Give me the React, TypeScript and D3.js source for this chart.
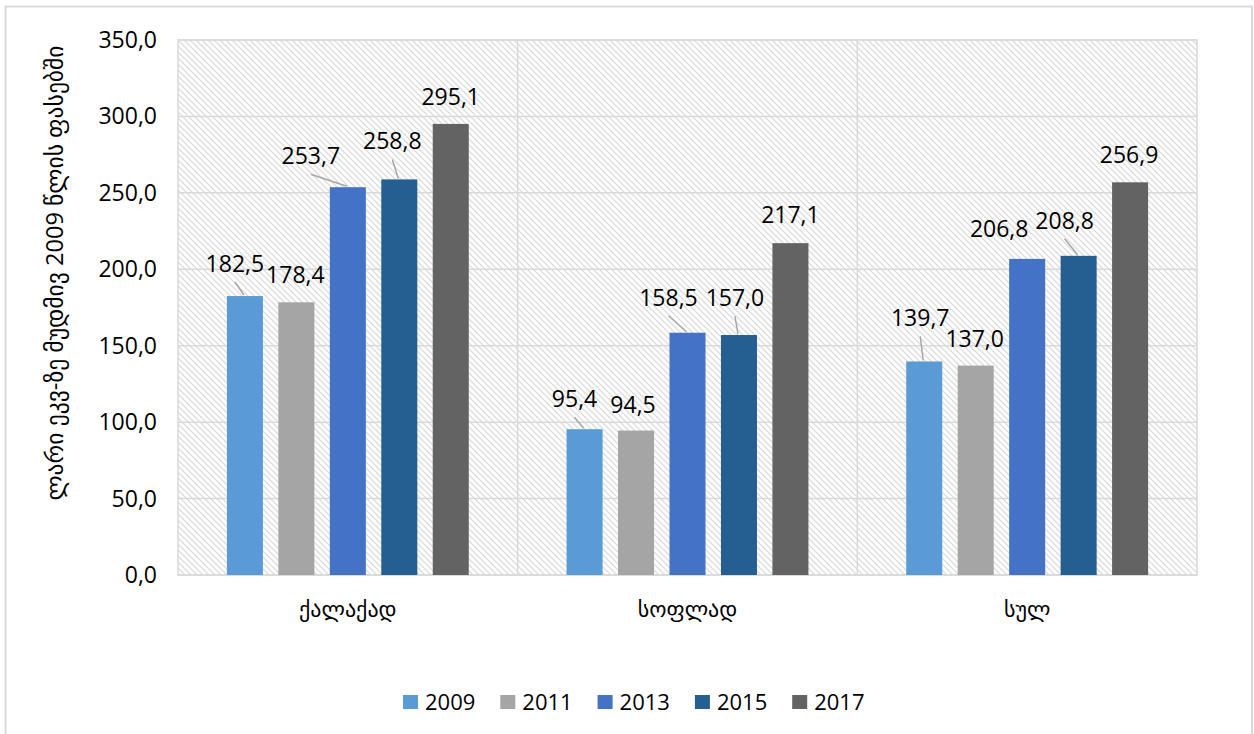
import React from "react";
import * as d3 from "d3";

const categories = ["ქალაქად", "სოფლად", "სულ"];
const years = ["2009", "2011", "2013", "2015", "2017"];
const values2009 = [182.5, 95.4, 139.7];
const values2011 = [178.4, 94.5, 137.0];
const values2013 = [253.7, 158.5, 206.8];
const values2015 = [258.8, 157.0, 208.8];
const values2017 = [295.1, 217.1, 256.9];
const yTicks = [0, 50, 100, 150, 200, 250, 300, 350];
const yTitle = "ლარი ეკვ-ზე მუდმივ 2009 წლის ფასებში";

// label placement (dx, dy relative to bar top centre) and leader flags, per year then category
const labelDx = [[-10, -10, -4], [-1, -3, -1], [-37, -19, -28], [-7, -4, -14], [0, 0, -1]];
const labelDy = [[-24, -22, -35], [-19, -18, -19], [-23, -27, -22], [-30, -29, -27], [-19, -20, -19]];
const leaders = [[true, true, true], [false, false, false], [true, true, false], [true, true, true], [false, false, false]];

const colors = ["#5b9bd5", "#a5a5a5", "#4472c4", "#255e91", "#636363"];
const seriesValues = [values2009, values2011, values2013, values2015, values2017];

const W = 1254, H = 734;
const plot = { left: 178, right: 1197, top: 40, bottom: 575 };
const FONT = "'Open Sans', 'DejaVu Sans', sans-serif";
const fmt = (v: number) => v.toFixed(1).replace(".", ",");

export default function App() {
  const x0 = d3.scaleBand().domain(categories).range([plot.left, plot.right]).padding(0);
  const x1 = d3.scaleBand().domain(years).range([0, x0.bandwidth()]).paddingInner(0.3).paddingOuter(0.95);
  const y = d3.scaleLinear().domain([0, 350]).range([plot.bottom, plot.top]);

  return (
    <svg width={W} height={H} style={{ position: "absolute", left: 0, top: 0, background: "#fff" }}
      fontFamily={FONT}>
      <defs>
        <pattern id="hatch" width="6" height="6" patternUnits="userSpaceOnUse">
          <path d="M-1,-1 L7,7 M-7,-1 L1,7 M5,-1 L13,7" stroke="#dcdcdc" strokeWidth="1.3" />
        </pattern>
      </defs>
      <rect x={5.5} y={6.5} width={1246.5} height={740} fill="#fff" stroke="#d9d9d9" strokeWidth={2} />
      <rect x={plot.left} y={plot.top} width={plot.right - plot.left} height={plot.bottom - plot.top}
        fill="url(#hatch)" />
      {yTicks.map((t) => (
        <line key={"g" + t} x1={plot.left} x2={plot.right} y1={y(t)} y2={y(t)} stroke="#d9d9d9" strokeWidth={1.5} />
      ))}
      {categories.map((c, i) => i > 0 && (
        <line key={"v" + c} x1={x0(c)!} x2={x0(c)!} y1={plot.top} y2={plot.bottom} stroke="#d9d9d9" strokeWidth={1.5} />
      ))}
      <rect x={plot.left} y={plot.top} width={plot.right - plot.left} height={plot.bottom - plot.top}
        fill="none" stroke="#d9d9d9" strokeWidth={1.5} />
      {yTicks.map((t) => (
        <text key={"t" + t} x={157} y={y(t) + 8} textAnchor="end" fontSize={23} fill="#000">{fmt(t)}</text>
      ))}
      <text transform={`translate(54,273) rotate(-90)`} textAnchor="middle" dominantBaseline="central"
        fontSize={23} textLength={455} lengthAdjust="spacingAndGlyphs" fill="#000">{yTitle}</text>
      {seriesValues.map((vals, si) => vals.map((v, ci) => {
        const cx = x0(categories[ci])! + x1(years[si])! + x1.bandwidth() / 2;
        const top = y(v);
        const lx = cx + labelDx[si][ci];
        const ly = top + labelDy[si][ci];
        return (
          <g key={`b${si}-${ci}`}>
            <rect x={x0(categories[ci])! + x1(years[si])!} y={top} width={x1.bandwidth()} height={y(0) - top}
              fill={colors[si]} />
            {leaders[si][ci] && (
              <line x1={lx} y1={ly + 10} x2={cx - 1} y2={top - 1} stroke="#a6a6a6" strokeWidth={1.5} />
            )}
            <text x={lx} y={ly} textAnchor="middle" fontSize={23} fill="#000">{fmt(v)}</text>
          </g>
        );
      }))}
      {categories.map((c) => (
        <text key={"c" + c} x={x0(c)! + x0.bandwidth() / 2} y={617} textAnchor="middle" fontSize={22} fill="#000">{c}</text>
      ))}
      {years.map((yr, i) => (
        <g key={"l" + yr} transform={`translate(${403 + i * 97.3},0)`}>
          <rect x={0} y={695} width={15} height={14} fill={colors[i]} />
          <text x={22} y={710} fontSize={22} fill="#000">{yr}</text>
        </g>
      ))}
    </svg>
  );
}
